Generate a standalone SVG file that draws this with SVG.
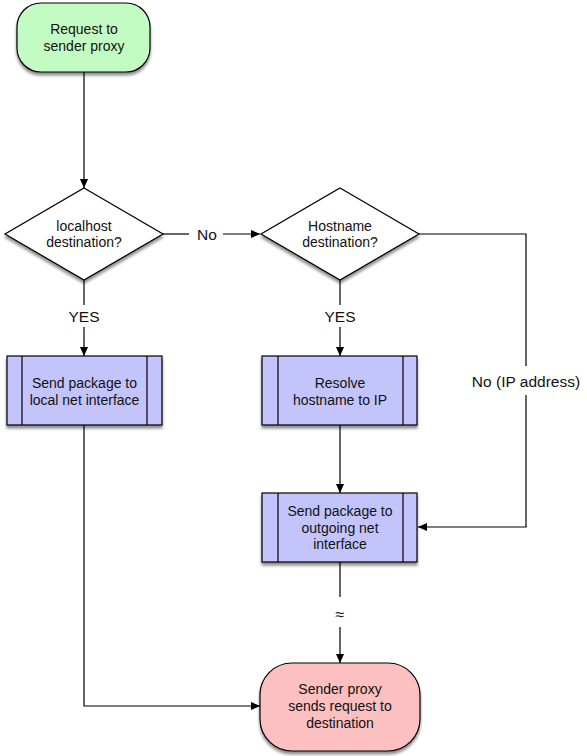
<svg xmlns="http://www.w3.org/2000/svg" width="587" height="756" viewBox="0 0 587 756">
<defs>
<filter id="sh" x="-20%" y="-20%" width="140%" height="140%">
<feGaussianBlur in="SourceAlpha" stdDeviation="1.8"/>
<feOffset dx="0" dy="3" result="b"/>
<feComponentTransfer><feFuncA type="linear" slope="0.45"/></feComponentTransfer>
<feMerge><feMergeNode/><feMergeNode in="SourceGraphic"/></feMerge>
</filter>
<marker id="arr" viewBox="0 0 10 10" refX="10" refY="5" markerWidth="9" markerHeight="9" markerUnits="userSpaceOnUse" orient="auto">
<path d="M0,0.5 L10,5 L0,9.5 Z" fill="#000"/>
</marker>
</defs>
<style>
.n{stroke:#000;stroke-width:1.2;filter:url(#sh)}
.g{fill:#c3fcc3}
.p{fill:#c4c4fc}
.r{fill:#fcc0c0}
.d{fill:#fff}
.bar{stroke:#000;stroke-width:1.2;fill:none}
text{font-family:"Liberation Sans",Arial,Helvetica,sans-serif;font-size:14px;fill:#111;text-anchor:middle}
.lbl{font-size:15.5px}
.c{stroke:#000;stroke-width:1.2;fill:none}
</style>
<g id="connectors">
<path class="c" d="M84,72 V188" marker-end="url(#arr)"/>
<path class="c" d="M163,234 H189"/>
<path class="c" d="M223,234 H260" marker-end="url(#arr)"/>
<text class="lbl" x="207" y="239.5">No</text>
<path class="c" d="M419,234 H526 V366"/>
<path class="c" d="M526,395 V527 H418" marker-end="url(#arr)"/>
<text class="lbl" x="526" y="386.5">No (IP address)</text>
<path class="c" d="M84,280 V305"/>
<path class="c" d="M84,327 V356" marker-end="url(#arr)"/>
<text class="lbl" x="84" y="322">YES</text>
<path class="c" d="M340,280 V305"/>
<path class="c" d="M340,327 V356" marker-end="url(#arr)"/>
<text class="lbl" x="340" y="322">YES</text>
<path class="c" d="M340,425 V493" marker-end="url(#arr)"/>
<path class="c" d="M340,562 V597"/>
<path class="c" d="M340,627 V663" marker-end="url(#arr)"/>
<text class="lbl" x="340" y="619.5" style="font-size:16px">≈</text>
<path class="c" d="M84,425 V706 H260" marker-end="url(#arr)"/>
</g>
<g id="start">
<rect class="n g" x="17" y="3" width="133" height="69" rx="24" ry="24"/>
<text x="84" y="34">Request to</text>
<text x="84" y="51">sender proxy</text>
</g>
<g id="localhost">
<polygon class="n d" points="84,188 163,234 84,280 5,234"/>
<text x="84" y="231">localhost</text>
<text x="84" y="247">destination?</text>
</g>
<g id="hostname">
<polygon class="n d" points="340,188 419,234 340,280 261,234"/>
<text x="340" y="231">Hostname</text>
<text x="340" y="247">destination?</text>
</g>
<g id="sendlocal">
<rect class="n p" x="7" y="356" width="155" height="69"/>
<path class="bar" d="M22,356 V425 M147,356 V425"/>
<text x="84.5" y="388">Send package to</text>
<text x="84.5" y="405">local net interface</text>
</g>
<g id="resolve">
<rect class="n p" x="262" y="356" width="155" height="69"/>
<path class="bar" d="M278,356 V425 M403,356 V425"/>
<text x="340" y="388">Resolve</text>
<text x="340" y="405">hostname to IP</text>
</g>
<g id="sendout">
<rect class="n p" x="262" y="493" width="155" height="69"/>
<path class="bar" d="M278,493 V562 M403,493 V562"/>
<text x="340" y="516">Send package to</text>
<text x="340" y="533">outgoing net</text>
<text x="340" y="549">interface</text>
</g>
<g id="end">
<rect class="n r" x="260" y="663" width="160" height="88" rx="32" ry="32"/>
<text x="340" y="694">Sender proxy</text>
<text x="340" y="711">sends request to</text>
<text x="340" y="728">destination</text>
</g>
</svg>
